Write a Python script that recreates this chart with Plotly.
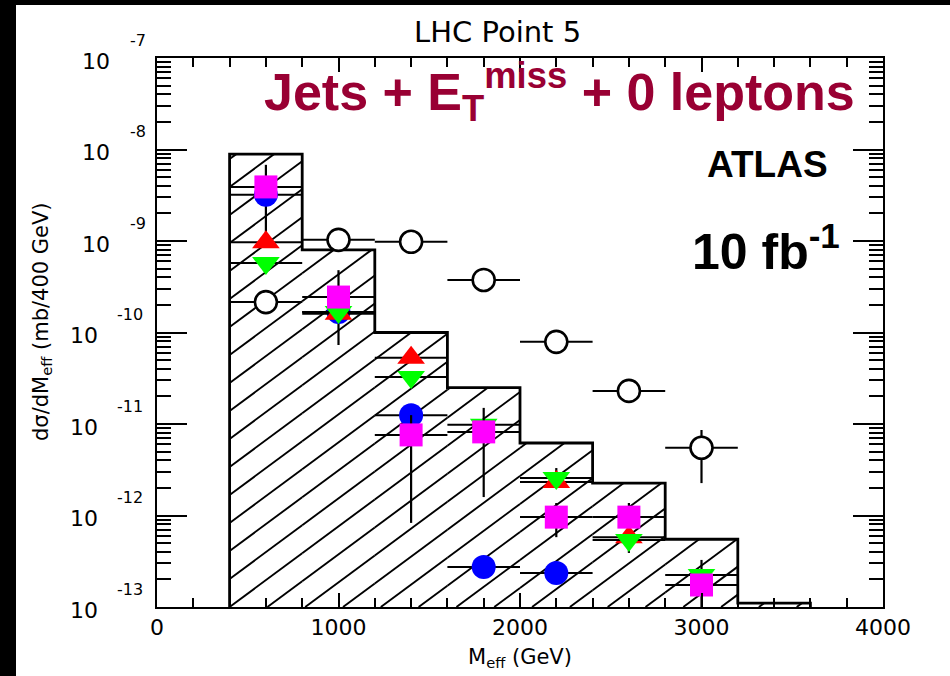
import math
import plotly.graph_objects as go

# ---------------------------------------------------------------- data
# Histogram: M_eff bins (GeV) and d(sigma)/dM_eff contents (mb/400 GeV)
bin_edges = [400, 800, 1200, 1600, 2000, 2400, 2800, 3200, 3600]
bin_heights = [8.9e-9, 8.0e-10, 1.0e-10, 2.5e-11, 6.2e-12, 2.26e-12, 5.5e-13, 1.1e-13]

# Open circles
open_x = [600, 1000, 1400, 1800, 2200, 2600, 3000]
open_y = [2.15e-10, 1.03e-9, 9.8e-10, 3.75e-10, 7.9e-11, 2.3e-11, 5.5e-12]
open_hi = [2.15e-10, 1.03e-9, 9.8e-10, 3.75e-10, 7.9e-11, 3.0e-11, 8.6e-12]
open_lo = [2.15e-10, 1.03e-9, 9.8e-10, 3.75e-10, 7.9e-11, 1.77e-11, 2.26e-12]

# Blue filled circles
blue_x = [600, 1000, 1400, 1800, 2200]
blue_y = [3.2e-9, 1.67e-10, 1.25e-11, 2.74e-13, 2.35e-13]
blue_hi = [6.8e-9, 4.8e-10, 1.5e-11, 2.74e-13, 2.35e-13]
blue_lo = [1.0e-9, 7.3e-11, 9.5e-12, 2.74e-13, 1.83e-13]

# Red triangles (up)
red_x = [600, 1000, 1400, 2200, 2600]
red_y = [9.7e-10, 1.6e-10, 5.3e-11, 2.32e-12, 5.8e-13]
red_hi = [9.7e-10, 1.6e-10, 5.3e-11, 3.3e-12, 1.37e-12]
red_lo = [9.7e-10, 1.6e-10, 5.3e-11, 2.32e-12, 3.9e-13]

# Green triangles (down)
green_x = [600, 1000, 1400, 1800, 2200, 2600, 3000]
green_y = [5.75e-10, 1.67e-10, 3.27e-11, 9.8e-12, 2.57e-12, 5.4e-13, 2.24e-13]
green_hi = [5.75e-10, 1.67e-10, 3.27e-11, 9.8e-12, 2.57e-12, 5.4e-13, 3.27e-13]
green_lo = [5.75e-10, 1.67e-10, 3.27e-11, 9.8e-12, 2.57e-12, 5.4e-13, 1.0e-13]

# Magenta squares
mag_x = [600, 1000, 1400, 1800, 2200, 2600, 3000]
mag_y = [3.9e-9, 2.44e-10, 7.6e-12, 8.2e-12, 9.6e-13, 9.6e-13, 1.74e-13]
mag_hi = [3.9e-9, 2.44e-10, 1.25e-11, 1.5e-11, 1.37e-12, 9.6e-13, 1.74e-13]
mag_lo = [3.9e-9, 2.44e-10, 8.3e-13, 1.59e-12, 5.8e-13, 9.6e-13, 1.74e-13]

x_half_width = 200          # half of the 400 GeV bin
y_decades = [-13, -12, -11, -10, -9, -8, -7]
x_tick_vals = [0, 1000, 2000, 3000, 4000]

# ---------------------------------------------------------------- geometry
W, H = 950, 676
ML, MR, MT, MB = 157, 67, 58, 69
PW, PH = W - ML - MR, H - MT - MB
X_RANGE = (0, 4000)
Y_RANGE = (-13, -7)


def px_x(p):
    return (p - ML) / PW


def px_y(p):
    return (H - MB - p) / PH


fig = go.Figure()

# ---------------------------------------------------------------- hatching
# Diagonal hatch: straight lines in (x, log10 y) space, clipped to each bin
slope = 0.001469            # decades per GeV
spacing = 0.306             # decades between hatch lines
phase = -10.246
hx, hy = [], []
k_min = int((-13 - phase) / spacing) - 20
k_max = int((-7 - phase) / spacing) + 2
for i, h in enumerate(bin_heights):
    x0, x1 = bin_edges[i], bin_edges[i + 1]
    lh = math.log10(h)
    for k in range(k_min, k_max):
        c = phase + k * spacing
        xa = max(x0, 400 + (-13 - c) / slope)
        xb = min(x1, 400 + (lh - c) / slope)
        if xb > xa:
            hx += [xa, xb, None]
            hy += [10 ** (c + slope * (xa - 400)), 10 ** (c + slope * (xb - 400)), None]

fig.add_trace(go.Scatter(x=hx, y=hy, mode="lines",
                         line=dict(color="black", width=1.9),
                         hoverinfo="skip", showlegend=False))

# histogram outline
sx, sy = [bin_edges[0]], [10 ** Y_RANGE[0]]
for i, h in enumerate(bin_heights):
    sx += [bin_edges[i], bin_edges[i + 1]]
    sy += [h, h]
sx.append(bin_edges[-1])
sy.append(10 ** Y_RANGE[0])
fig.add_trace(go.Scatter(x=sx, y=sy, mode="lines",
                         line=dict(color="black", width=2.8),
                         hoverinfo="skip", showlegend=False))


# ---------------------------------------------------------------- points
def add_points(x, y, hi, lo, symbol, color, size, line=None):
    fig.add_trace(go.Scatter(
        x=x, y=y, mode="markers",
        marker=dict(symbol=symbol, color=color, size=size,
                    line=line or dict(width=0)),
        error_x=dict(type="constant", value=x_half_width, color="black",
                     thickness=2, width=0),
        error_y=dict(type="data", symmetric=False,
                     array=[a - b for a, b in zip(hi, y)],
                     arrayminus=[b - a for a, b in zip(lo, y)],
                     color="black", thickness=2.2, width=0),
        showlegend=False))


add_points(open_x, open_y, open_hi, open_lo, "circle", "white", 22,
           dict(color="black", width=2.6))
add_points(blue_x, blue_y, blue_hi, blue_lo, "circle", "#0000ff", 24)
add_points(red_x, red_y, red_hi, red_lo, "triangle-up", "#ff0000", 24)
add_points(green_x, green_y, green_hi, green_lo, "triangle-down", "#00ff00", 24)
add_points(mag_x, mag_y, mag_hi, mag_lo, "square", "#ff00ff", 23)

# ---------------------------------------------------------------- axes
tick_font = dict(family="DejaVu Sans", size=22, color="black")
fig.update_xaxes(
    range=list(X_RANGE), showline=True, linecolor="black", linewidth=2,
    mirror="ticks", ticks="inside", ticklen=14, tickwidth=2, tickcolor="black",
    tickvals=x_tick_vals, tickfont=tick_font, showgrid=False, zeroline=False,
    minor=dict(dtick=200, ticks="inside", ticklen=9, tickwidth=1.6,
               tickcolor="black", showgrid=False),
)
minor_vals = [m * 10 ** d for d in y_decades[:-1] for m in range(2, 10)]
fig.update_yaxes(
    type="log", range=list(Y_RANGE), showline=True, linecolor="black",
    linewidth=2, mirror="ticks", ticks="inside", ticklen=30, tickwidth=2,
    tickcolor="black", tickvals=[10 ** d for d in y_decades],
    showticklabels=False, showgrid=False, zeroline=False,
    minor=dict(tickvals=minor_vals, ticks="inside", ticklen=14,
               tickwidth=1.6, tickcolor="black", showgrid=False),
)

annotations = []
# y tick labels: "10" with the exponent raised to its upper right
for d in y_decades:
    exp = str(d)
    base_right = 112 if len(exp) == 2 else 100
    exp_left = 128 if len(exp) == 2 else 115
    annotations.append(dict(text="10", xref="paper", yref="y", x=px_x(base_right),
                            y=d, xanchor="right", yanchor="middle", yshift=-3,
                            showarrow=False, font=tick_font))
    annotations.append(dict(text=exp, xref="paper", yref="y", x=px_x(exp_left), y=d,
                            xanchor="left", yanchor="middle", yshift=18,
                            showarrow=False,
                            font=dict(family="DejaVu Sans", size=16, color="black")))

label_font = dict(family="DejaVu Sans", size=21, color="black")
annotations += [
    dict(text="M<sub>eff</sub> (GeV)", xref="paper", yref="paper",
         x=px_x(520), y=px_y(658), xanchor="center", yanchor="middle",
         showarrow=False, font=label_font),
    dict(text="d\u03c3/dM<sub>eff</sub> (mb/400 GeV)", xref="paper", yref="paper",
         x=px_x(42), y=px_y(322), xanchor="center", yanchor="middle",
         textangle=-90, showarrow=False, font=label_font),
    dict(text="LHC Point 5", xref="paper", yref="paper",
         x=px_x(497), y=px_y(32), xanchor="center", yanchor="middle",
         showarrow=False, font=dict(family="DejaVu Sans", size=29, color="black")),
    dict(text="<b>Jets + E<sub>T</sub><sup>miss</sup> + 0 leptons</b>",
         xref="paper", yref="paper", x=px_x(857), y=px_y(92),
         xanchor="right", yanchor="middle", showarrow=False,
         font=dict(family="Liberation Sans", size=52, color="#990033")),
    dict(text="<b>ATLAS</b>", xref="paper", yref="paper",
         x=px_x(767), y=px_y(164), xanchor="center", yanchor="middle",
         showarrow=False, font=dict(family="Liberation Sans", size=37, color="black")),
    dict(text="<b>10 fb<sup>-1</sup></b>", xref="paper", yref="paper",
         x=px_x(842), y=px_y(248), xanchor="right", yanchor="middle",
         showarrow=False, font=dict(family="Liberation Sans", size=50, color="black")),
]

# black frame strips along the top and left edges of the page
shapes = [
    dict(type="rect", xref="paper", yref="paper", x0=px_x(0), x1=px_x(W),
         y0=px_y(5), y1=px_y(-2), fillcolor="black", line=dict(width=0),
         layer="above"),
    dict(type="rect", xref="paper", yref="paper", x0=px_x(-2), x1=px_x(16),
         y0=px_y(H + 2), y1=px_y(-2), fillcolor="black", line=dict(width=0),
         layer="above"),
]

fig.update_layout(
    width=W, height=H, margin=dict(l=ML, r=MR, t=MT, b=MB, pad=0),
    paper_bgcolor="white", plot_bgcolor="white",
    showlegend=False, annotations=annotations, shapes=shapes,
)

fig.write_html("out.html")
